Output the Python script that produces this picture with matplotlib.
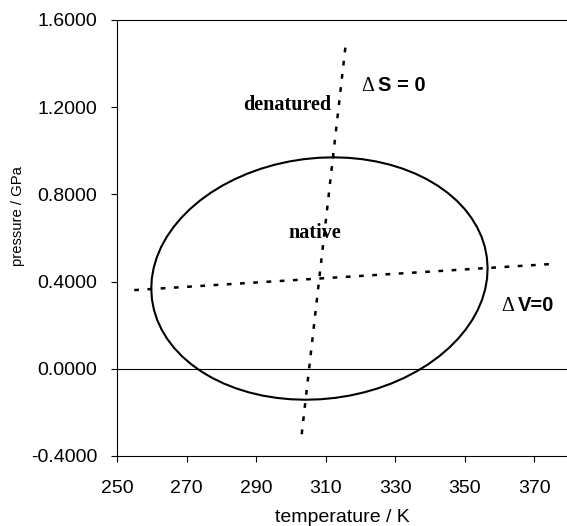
import matplotlib
matplotlib.use("Agg")
import matplotlib.pyplot as plt
from matplotlib.ticker import FormatStrFormatter

# Phase-boundary ellipse (temperature / K, pressure / GPa)
ellipse_T = [312.17, 316.36, 320.48, 324.52, 328.43, 332.18, 335.75, 339.12, 342.24,
             345.11, 347.70, 349.99, 351.96, 353.59, 354.89, 355.82, 356.39, 356.60,
             356.44, 355.91, 355.02, 353.77, 352.17, 350.24, 347.99, 345.44, 342.60,
             339.51, 336.17, 332.62, 328.89, 324.99, 320.97, 316.85, 312.67, 308.45,
             304.23, 300.04, 295.92, 291.88, 287.97, 284.22, 280.65, 277.28, 274.16,
             271.29, 268.70, 266.41, 264.44, 262.81, 261.51, 260.58, 260.01, 259.80,
             259.96, 260.49, 261.38, 262.63, 264.23, 266.16, 268.41, 270.96, 273.80,
             276.89, 280.23, 283.78, 287.51, 291.41, 295.43, 299.55, 303.73, 307.95,
             312.17]
ellipse_p = [0.970, 0.9679, 0.9616, 0.9511, 0.9365, 0.9179, 0.8955, 0.8694, 0.8399,
             0.8071, 0.7714, 0.7329, 0.692, 0.6490, 0.6042, 0.5579, 0.5105, 0.4625,
             0.414, 0.3655, 0.3175, 0.2701, 0.2238, 0.1790, 0.136, 0.0951, 0.0566,
             0.0209, -0.0119, -0.0414, -0.0675, -0.0899, -0.1085, -0.1231, -0.1336, -0.1399,
             -0.142, -0.1399, -0.1336, -0.1231, -0.1085, -0.0899, -0.0675, -0.0414, -0.0119,
             0.0209, 0.0566, 0.0951, 0.136, 0.1790, 0.2238, 0.2701, 0.3175, 0.3655,
             0.414, 0.4625, 0.5105, 0.5579, 0.6042, 0.6490, 0.692, 0.7329, 0.7714,
             0.8071, 0.8399, 0.8694, 0.8955, 0.9179, 0.9365, 0.9511, 0.9616, 0.9679,
             0.970]

# Delta S = 0 line
dS_T = [303.1, 315.8]
dS_p = [-0.30, 1.494]

# Delta V = 0 line
dV_T = [254.9, 375.3]
dV_p = [0.361, 0.481]

x_ticks = [250, 270, 290, 310, 330, 350, 370]
y_ticks = [-0.4, 0.0, 0.4, 0.8, 1.2, 1.6]

plt.rcParams['font.family'] = ['Liberation Sans', 'DejaVu Sans']

fig = plt.figure(figsize=(5.67, 5.26), dpi=100)
ax = fig.add_axes([0.2067, 0.1331, 0.7967, 0.8289])

dot_style = (0, (1.9, 3.4))
ax.plot(ellipse_T, ellipse_p, color='black', lw=1.5, solid_joinstyle='round')
ax.plot(dS_T, dS_p, color='black', lw=1.8, linestyle=dot_style, dash_capstyle='butt')
ax.plot(dV_T, dV_p, color='black', lw=1.8, linestyle=dot_style, dash_capstyle='butt')
ax.axhline(0, color='black', lw=0.8)

ax.set_xlim(250, 380)
ax.set_ylim(-0.4, 1.6)
ax.set_xticks(x_ticks)
ax.set_yticks(y_ticks)
ax.yaxis.set_major_formatter(FormatStrFormatter('%.4f'))
ax.tick_params(axis='both', direction='out', length=4.5, width=0.8, labelsize=14, colors='black')
ax.tick_params(axis='x', pad=13)
ax.tick_params(axis='y', pad=10)
for s in ax.spines.values():
    s.set_linewidth(0.8)

fig.text(342.5 / 567, 1 - 517 / 526, 'temperature / K', ha='center', va='center', fontsize=14)
fig.text(18.5 / 567, 1 - 216 / 526, 'pressure / GPa', ha='center', va='center',
         rotation=90, fontsize=10.7)

serif = 'Liberation Serif'
ax.text(299.0, 1.212, 'denatured', ha='center', va='center', fontsize=14.5,
        fontweight='bold', family=serif)
ax.text(306.8, 0.625, 'native', ha='center', va='center', fontsize=14.5,
        fontweight='bold', family=serif)

ax.text(320.2, 1.276, '\u0394', ha='left', va='baseline', fontsize=14.5, family=serif)
ax.annotate('S = 0', xy=(320.2, 1.276), xytext=(12.3, 0), textcoords='offset points',
            ha='left', va='baseline', fontsize=14.5, fontweight='bold')
ax.text(360.4, 0.264, '\u0394', ha='left', va='baseline', fontsize=14.5, family=serif)
ax.annotate('V=0', xy=(360.4, 0.264), xytext=(12.0, 0), textcoords='offset points',
            ha='left', va='baseline', fontsize=14.5, fontweight='bold')

fig.savefig('out.png', dpi=100)
